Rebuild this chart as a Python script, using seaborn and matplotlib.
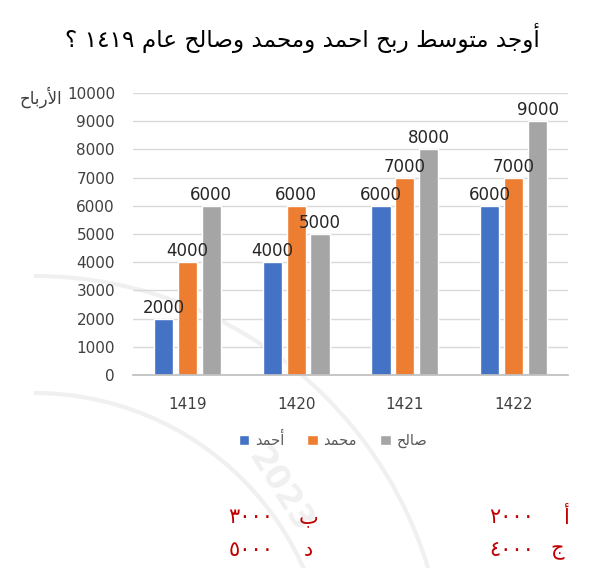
import matplotlib
matplotlib.use("Agg")
import matplotlib.pyplot as plt
from matplotlib.patches import Arc
import seaborn as sns
import pandas as pd

# ---------------- data ----------------
years = ["1419", "1420", "1421", "1422"]
names = ["أحمد", "محمد", "صالح"]
ahmad = [2000, 4000, 6000, 6000]
mohammad = [4000, 6000, 7000, 7000]
saleh = [6000, 5000, 8000, 9000]
yticks = [0, 1000, 2000, 3000, 4000, 5000, 6000, 7000, 8000, 9000, 10000]
title_text = "أوجد متوسط ربح احمد ومحمد وصالح عام ١٤١٩ ؟"
ylabel_text = "الأرباح"
choices = [("أ", "٢٠٠٠"), ("ب", "٣٠٠٠"), ("ج", "٤٠٠٠"), ("د", "٥٠٠٠")]
colors = ["#4472C4", "#ED7D31", "#A5A5A5"]

# ------------- minimal Arabic shaping (presentation forms) -------------
FORMS = {
    "\u0627": ("\uFE8D", "\uFE8E", None, None),
    "\u0623": ("\uFE83", "\uFE84", None, None),
    "\u0628": ("\uFE8F", "\uFE90", "\uFE91", "\uFE92"),
    "\u062A": ("\uFE95", "\uFE96", "\uFE97", "\uFE98"),
    "\u062C": ("\uFE9D", "\uFE9E", "\uFE9F", "\uFEA0"),
    "\u062D": ("\uFEA1", "\uFEA2", "\uFEA3", "\uFEA4"),
    "\u062F": ("\uFEA9", "\uFEAA", None, None),
    "\u0631": ("\uFEAD", "\uFEAE", None, None),
    "\u0633": ("\uFEB1", "\uFEB2", "\uFEB3", "\uFEB4"),
    "\u0635": ("\uFEB9", "\uFEBA", "\uFEBB", "\uFEBC"),
    "\u0637": ("\uFEC1", "\uFEC2", "\uFEC3", "\uFEC4"),
    "\u0639": ("\uFEC9", "\uFECA", "\uFECB", "\uFECC"),
    "\u0644": ("\uFEDD", "\uFEDE", "\uFEDF", "\uFEE0"),
    "\u0645": ("\uFEE1", "\uFEE2", "\uFEE3", "\uFEE4"),
    "\u0648": ("\uFEED", "\uFEEE", None, None),
    "\u064A": ("\uFEF1", "\uFEF2", "\uFEF3", "\uFEF4"),
}
LAMALEF = {"\u0627": ("\uFEFB", "\uFEFC"), "\u0623": ("\uFEF7", "\uFEF8")}


def shape_word(w):
    out = []
    i = 0
    n = len(w)
    while i < n:
        c = w[i]
        if c not in FORMS:
            out.append(c)
            i += 1
            continue
        prev = w[i - 1] if i > 0 else None
        pj = prev in FORMS and FORMS[prev][2] is not None
        if c == "\u0644" and i + 1 < n and w[i + 1] in LAMALEF:
            iso, fin = LAMALEF[w[i + 1]]
            out.append(fin if pj else iso)
            i += 2
            continue
        nxt = w[i + 1] if i + 1 < n else None
        nj = nxt in FORMS and FORMS[c][2] is not None
        iso, fin, ini, med = FORMS[c]
        if pj and nj:
            out.append(med)
        elif pj:
            out.append(fin)
        elif nj:
            out.append(ini)
        else:
            out.append(iso)
        i += 1
    return "".join(out)


def is_digits(tok):
    return all(ch.isdigit() for ch in tok)


def ar(text):
    toks = text.split(" ")
    vis = []
    for t in toks:
        if is_digits(t):
            vis.append(t)
        else:
            vis.append(shape_word(t)[::-1])
    return " ".join(vis[::-1])


# ---------------- plot ----------------
sns.set_theme(style="white")
plt.rcParams["font.family"] = ["DejaVu Sans"]

df = pd.DataFrame({
    "year": years * 3,
    "name": [ar(names[0])] * 4 + [ar(names[1])] * 4 + [ar(names[2])] * 4,
    "value": ahmad + mohammad + saleh,
})

W, H = 607, 568
fig = plt.figure(figsize=(W / 100, H / 100), dpi=100)

# faint background stamp (scan watermark)
bg = fig.add_axes([0, 0, 1, 1], zorder=-5)
bg.set_xlim(0, W)
bg.set_ylim(H, 0)
bg.axis("off")
for r, lw in [(295, 3), (412, 3)]:
    bg.add_patch(Arc((34, 688), 2 * r, 2 * r, theta1=270, theta2=360,
                     color="#F0F0F0", lw=lw))
bg.text(280, 490, "2023", rotation=-58, fontsize=24, color="#F0F0F0",
        ha="center", va="center", fontweight="bold")

ax = fig.add_axes([133 / W, 1 - 375 / H, 435 / W, 282 / H])
ax.set_facecolor("none")

sns.barplot(data=df, x="year", y="value", hue="name", palette=colors,
            width=0.66, gap=0.2, ax=ax, legend=True, saturation=1)

for cont in ax.containers:
    ax.bar_label(cont, fmt="%d", padding=1.5, fontsize=12, color="#262626")

ax.set_ylim(0, 10000)
ax.set_yticks(yticks)
ax.set_xlim(-0.5, 3.5)
ax.yaxis.grid(True, color="#D9D9D9", linewidth=1)
ax.set_axisbelow(True)
for s in ["left", "right", "top"]:
    ax.spines[s].set_visible(False)
ax.spines["bottom"].set_color("#BFBFBF")
ax.tick_params(axis="y", length=0, pad=13, labelsize=11, labelcolor="#404040")
ax.tick_params(axis="x", length=0, pad=16, labelsize=11, labelcolor="#404040")
ax.set_xlabel("")
ax.set_ylabel("")

h, l = ax.get_legend_handles_labels()
ax.get_legend().remove()
fig.legend(h, l, loc="center", bbox_to_anchor=(333 / W, 1 - 440 / H),
           ncol=3, frameon=False, handlelength=0.7, handleheight=0.7,
           handletextpad=0.4, columnspacing=1.6, fontsize=10.5,
           labelcolor="#595959")

fig.text(41 / W, 1 - 97 / H, ar(ylabel_text), ha="center", va="center",
         fontsize=12, color="#404040")

fig.text(302 / W, 1 - 38 / H, ar(title_text), ha="center", va="center",
         fontsize=16.7, color="black")

# answer choices (red)
red = "#C00000"
pos = {"أ": (567, 517, 512), "ج": (557, 550, 512),
       "ب": (308, 517, 251), "د": (308, 550, 251)}
for letter, num in choices:
    lx, y, nx = pos[letter]
    fig.text(lx / W, 1 - y / H, letter, ha="center", va="center",
             fontsize=15, color=red)
    fig.text(nx / W, 1 - y / H, num, ha="center", va="center",
             fontsize=15, color=red)

fig.savefig("out.png", dpi=100, facecolor="white")
